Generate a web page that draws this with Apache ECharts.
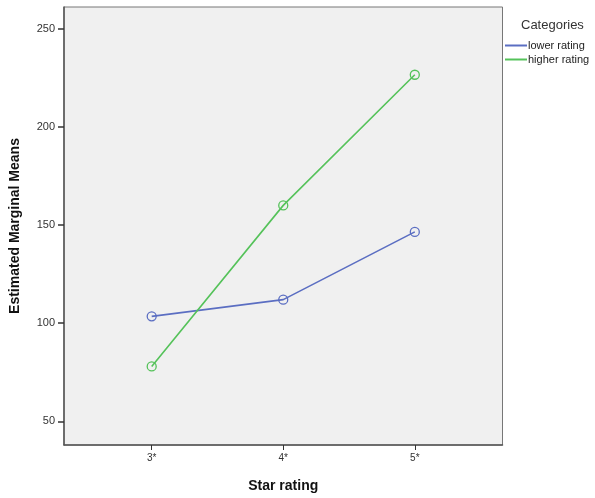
<!DOCTYPE html>
<html><head><meta charset="utf-8">
<script src="https://cdn.jsdelivr.net/npm/echarts@6/dist/echarts.min.js"></script>
<style>html,body{margin:0;padding:0;background:#fff}#c{width:595px;height:498px}</style>
</head><body><div id="c"></div>
<script>
const categories = ['3*', '4*', '5*'];
const categoryPos = [3, 4, 5];
const lowerRating = [103.5, 112, 146.5];
const higherRating = [78, 160, 226.5];
const yTicks = [50, 100, 150, 200, 250];
const seriesNames = ['lower rating', 'higher rating'];
const seriesColors = ['#5b6ec2', '#55c25a'];

const chart = echarts.init(document.getElementById('c'));
const font = 'Arial, "Liberation Sans", sans-serif';
chart.setOption({
  animation: false,
  title: {
    text: 'Categories', left: 516, top: 14,
    textStyle: {fontSize: 13, fontWeight: 'normal', color: '#333', fontFamily: font}
  },
  legend: {
    orient: 'vertical', left: 500, top: 35, itemGap: 3,
    itemWidth: 22, itemHeight: 2, icon: 'rect',
    textStyle: {fontSize: 11, color: '#222', fontFamily: font, padding: [0,0,0,-4]},
    data: seriesNames.map((n, i) => ({name: n, itemStyle: {color: seriesColors[i], borderWidth: 0}}))
  },
  grid: {
    left: 64, top: 7, right: 92.5, bottom: 51.3, show: true,
    backgroundColor: '#f0f0f0', borderColor: '#777', borderWidth: 1
  },
  xAxis: {
    type: 'value', min: 7/3, max: 17/3,
    name: 'Star rating', nameLocation: 'middle', nameGap: 34,
    nameTextStyle: {fontSize: 14, fontWeight: 'bold', color: '#111', fontFamily: font},
    axisLine: {show: true, onZero: false, lineStyle: {color: '#555', width: 1.5}},
    axisTick: {show: true, length: 5, customValues: categoryPos, lineStyle: {color: '#333', width: 1}},
    axisLabel: {customValues: categoryPos, formatter: v => categories[categoryPos.indexOf(Math.round(v))] || '',
      fontSize: 10, color: '#333', fontFamily: font, margin: 8},
    splitLine: {show: false}
  },
  yAxis: {
    type: 'value', min: 38, max: 261,
    name: 'Estimated Marginal Means', nameLocation: 'middle', nameGap: 42,
    nameTextStyle: {fontSize: 14, fontWeight: 'bold', color: '#111', fontFamily: font},
    axisLine: {show: true, lineStyle: {color: '#555', width: 1.5}},
    axisTick: {show: true, length: 6, customValues: yTicks, lineStyle: {color: '#333', width: 1.5}},
    axisLabel: {customValues: yTicks, fontSize: 11, color: '#333', fontFamily: font, margin: 9},
    splitLine: {show: false}
  },
  series: seriesNames.map((n, k) => ({
    name: n, type: 'line',
    data: categoryPos.map((x, i) => [x, (k === 0 ? lowerRating : higherRating)[i]]),
    symbol: 'circle', symbolSize: 9,
    lineStyle: {width: 1.6, color: seriesColors[k]},
    itemStyle: {color: 'rgba(0,0,0,0)', borderColor: seriesColors[k], borderWidth: 1.3}
  }))
});
</script></body></html>
